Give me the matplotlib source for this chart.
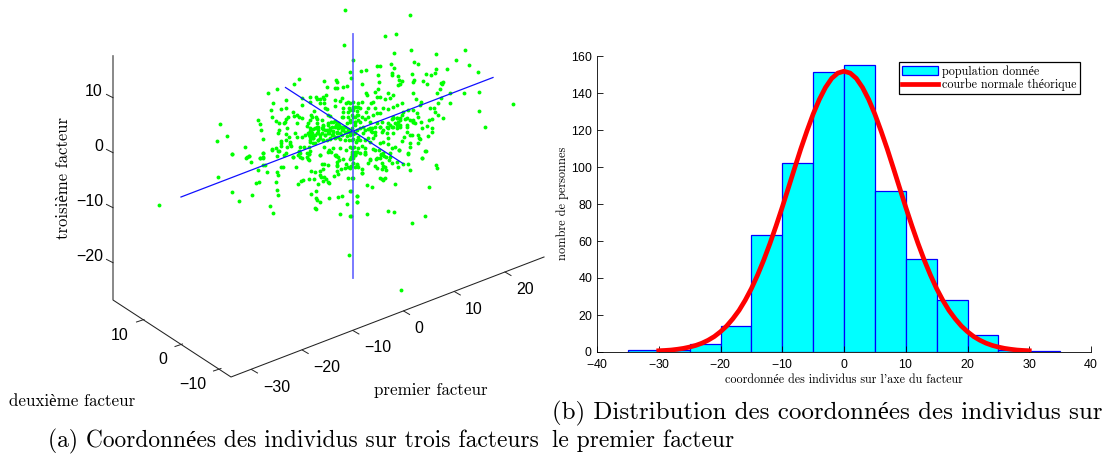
import numpy as np
import matplotlib
matplotlib.use("Agg")
import matplotlib.pyplot as plt

plt.rcParams['font.family'] = ['Liberation Sans', 'DejaVu Sans']
serif = ['cmr10', 'Liberation Serif']
plt.rcParams['axes.formatter.use_mathtext'] = True

# histogram of the first factor
bin_edges = [-35, -30, -25, -20, -15, -10, -5, 0, 5, 10, 15, 20, 25, 30, 35]
bin_counts = [1, 1, 4, 14, 63, 102, 151, 155, 87, 50, 28, 9, 1, 0.3]
curve_x = list(range(-30, 31))
curve_y = [0.4, 0.57, 0.8, 1.2, 1.7, 2.4, 3.3, 4.5, 6.1, 8.1, 10.7, 13.8, 17.7, 22.2, 27.7, 34, 41.3, 49.4, 58.3, 67.9,
           78, 88.5, 99.1, 109.5, 119.2, 128.3, 136.2, 142.7, 147.6, 150.5, 151.5,
           150.5, 147.6, 142.7, 136.2, 128.3, 119.2, 109.5, 99.1, 88.5, 78,
           67.9, 58.3, 49.4, 41.3, 34, 27.7, 22.2, 17.7, 13.8, 10.7, 8.1, 6.1, 4.5, 3.3, 2.4, 1.7, 1.2, 0.8, 0.57, 0.4]

# cloud of individuals (3x crop coordinates)
cloud = [
    (765,31),(959,45),(884,107),(918,103),(763,136),(963,149),(911,160),(1037,163),(1125,150),(1098,179),
    (789,180),(208,614),(778,766),(933,871),(1270,313),
]
crop_a = [
    (268,58),(251,72),(202,87),(175,100),(342,62),(379,60),(381,65),(352,80),(376,85),(380,85),(400,80),(411,79),(422,53),(421,37),
    (299,112),(318,110),(322,118),(347,105),(340,112),(331,118),(343,118),(375,121),(397,115),(391,124),(413,125),(407,130),
    (228,121),(275,115),(190,130),(277,135),(329,130),(342,130),(375,137),(300,125),(212,146),(227,143),(182,150),(248,155),
    (262,165),(268,170),(252,168),(302,165),(312,152),(345,145),(350,148),(398,143),(418,143),(428,140),(434,140),(445,140),
    (400,155),(415,155),(430,150),(440,152),(186,170),(143,179),(197,184),(208,188),(228,178),(233,172),(224,185),(221,190),
    (262,190),(275,175),(305,170),(318,172),(322,178),(300,180),(335,180),(355,165),(360,168),(395,170),(400,172),(415,170),
    (425,165),(435,170),(445,165),(151,193),(154,211),(231,205),(207,210),(203,218),(290,198),(295,188),(340,195),(320,190),
    (355,190),(363,185),(375,183),(385,190),(378,195),(390,200),(410,190),(420,185),(435,185),(443,180),(229,222),(255,220),
    (262,230),(275,232),(285,225),(300,205),(302,215),(298,225),(315,205),(325,200),(338,208),(350,210),(360,205),(370,212),
    (385,205),(395,210),(405,215),(415,212),(428,212),(440,210),(158,237),(212,243),(212,250),(227,240),(236,232),(241,245),
    (240,252),(242,258),(305,228),(310,235),(322,218),(330,225),(345,225),(358,218),(368,225),(380,220),(395,225),(410,228),
    (420,225),(430,222),(105,262),(186,268),(198,265),(206,274),(230,260),(212,258),(270,262),(283,262),(296,262),(300,240),
    (310,250),(325,240),(340,240),(350,240),(360,238),(375,235),(390,238),(405,240),(418,240),(430,238),(442,240),(67,283),
    (117,289),(109,294),(160,278),(159,293),(149,295),(222,284),(248,292),(267,275),(271,280),(265,284),(290,280),(296,282),
    (294,296),(330,285),(342,262),(358,270),(370,265),(375,285),(390,265),(407,270),(425,290),(433,260),(445,265),(420,262),
    (378,288),(29,193),(52,229),(21,244),
]
crop_b = [
    (193,5),(204,13),(124,12),(133,23),(80,18),(89,19),(48,30),(32,33),(85,45),(126,38),(125,45),(145,47),(148,60),(157,62),
    (185,43),(192,60),(190,65),(218,63),(228,42),(243,46),(256,40),(258,26),(291,28),(356,15),(383,35),(149,73),(145,76),
    (232,72),(87,67),(37,72),(278,66),(275,72),(272,70),(269,87),(261,98),(189,100),(300,100),(341,100),(388,96),(387,153),
    (406,200),(299,128),(47,100),(52,105),(75,97),(85,87),(90,110),(113,100),(130,105),(120,115),(105,118),(80,110),(68,125),
    (62,130),(35,125),(25,128),(10,125),(0,130),(198,118),(212,127),(210,135),(273,115),(265,130),(252,145),(240,145),(255,157),
    (280,175),(265,165),(155,130),(142,135),(130,140),(115,147),(100,145),(90,160),(75,145),(55,145),(48,155),(30,145),(20,140),
    (10,145),(0,150),(175,150),(190,150),(200,160),(205,170),(160,155),(80,160),(70,165),(55,170),(35,170),(20,165),(8,170),
    (30,185),(130,170),(140,175),(125,178),(150,180),(155,165),(190,180),(188,187),(170,175),(212,185),(230,198),(238,180),
    (245,178),(115,190),(95,185),(80,190),(60,185),(45,178),(15,185),(0,180),(140,195),(150,200),(125,200),(115,205),(90,200),
    (65,205),(62,212),(40,200),(30,205),(15,195),(5,205),(170,195),(172,215),(215,205),(245,205),(247,217),(235,227),(130,218),
    (110,220),(95,215),(75,225),(70,235),(55,235),(40,220),(25,230),(15,220),(0,215),(180,225),(185,225),(205,225),(207,235),
    (210,237),(162,232),(155,243),(180,250),(115,235),(100,245),(90,250),(60,245),(45,240),(30,240),(18,245),(35,258),(5,240),
    (205,250),(180,262),(227,272),(135,262),(127,265),(113,252),(70,268),(88,270),(100,280),(148,270),(92,285),(108,290),(45,265),
    (45,282),(30,280),(5,265),(15,275),(175,280),(215,295),(80,295),(60,297),(120,290),(5,282),
]
crop_c = [
    (67,13),(110,22),(118,18),(122,36),(150,24),(160,8),(160,20),(187,0),(205,3),(227,8),(200,18),(250,21),(270,20),(275,25),
    (290,20),(296,13),(298,30),(268,3),(300,2),(330,14),(355,5),(363,6),(378,15),(383,20),(388,30),(380,35),(400,28),(425,18),
    (428,25),(420,28),(440,5),(435,15),(160,45),(165,45),(143,60),(170,65),(213,52),(218,50),(200,65),(203,75),(257,50),(303,63),
    (316,66),(335,42),(342,43),(355,45),(381,45),(380,48),(408,42),(415,50),(430,40),(440,45),(445,50),(393,58),(380,62),(330,62),
    (338,58),(405,55),(420,55),(24,81),(137,100),(148,95),(198,95),(272,92),(278,90),(313,87),(298,88),(324,101),(330,75),(332,80),
    (342,80),(347,88),(340,93),(353,97),(357,100),(373,78),(385,72),(413,84),(428,85),(67,125),(127,135),(202,119),(205,134),
    (263,101),(318,122),(302,131),(319,143),(322,150),(330,157),(385,140),(396,137),(358,143),(422,124),(440,137),(441,157),
    (412,163),(88,154),(181,168),(190,188),(316,174),(318,176),(390,192),(422,198),
]
crop_d = [
    (5,5),(15,15),(20,5),(45,5),(45,12),(2,20),(75,0),(90,25),(103,18),(78,27),(60,30),(118,30),(127,38),(140,35),(148,0),(120,10),
    (92,13),(175,12),(225,3),(215,25),(55,40),(20,43),(10,38),(3,48),(15,50),(35,57),(35,70),(37,70),(95,40),(100,48),(75,48),(82,55),
    (95,57),(105,50),(108,60),(143,50),(160,42),(175,42),(180,59),(257,45),(261,55),(7,85),(90,85),(95,88),(100,90),(105,84),(50,104),
    (65,112),(134,102),(238,112),(0,124),(20,137),(20,157),(51,193),(115,184),(133,187),(226,197),(185,218),(0,198),
]
# denser centre, from tighter crops
crop_e = [
    (160,97),(170,100),(178,105),(185,110),(195,112),(205,118),(165,110),(175,115),(190,120),(200,125),(210,125),(155,112),(150,120),
    (160,125),(170,125),(180,130),(145,130),(155,135),(135,120),(125,115),(115,120),(100,118),(90,122),(95,130),(105,135),(115,130),
    (125,130),(135,135),(90,140),(100,145),(120,145),(85,130),(110,112),(130,108),(143,105),(115,150),(130,150),(150,145),(165,140),
    (175,140),(90,155),(105,158),
]
crop_f = [
    (115,85),(125,85),(130,95),(120,100),(105,105),(135,105),(115,110),(95,110),(125,115),(60,112),(75,110),(45,115),(50,125),(40,118),
    (60,125),(85,120),(30,120),(155,110),(175,95),(180,100),(135,85),(150,88),(165,90),
]

# tick values of the three factor axes
z_ticks = [10, 0, -10, -20]
x_ticks = [-30, -20, -10, 0, 10, 20]
y_ticks = [10, 0, -10]
# the tick labels along the first factor are not evenly spaced in the picture
x_label_px = [277, 327, 378, 419, 474, 525]


def screen_points(points, dx=0, dy=0):
    pts = np.array(points, dtype=float)
    return 90 + (pts[:, 0] + dx) / 3, (pts[:, 1] + dy) / 3


def z_pos(z):
    return 113.0, 152.7 - 5.5 * z


def x_pos(x):
    return 403.6 + 5.07 * x, 311.0 - 1.95 * x


def y_pos(y):
    return 182.5 - 3.85 * y, 344.0 - 2.45 * y


def tick_text(t):
    return f'\u2212{-t}' if t < 0 else str(t)


fig = plt.figure(figsize=(11.03, 4.58), dpi=100)

# left panel: view of the 3D cloud, drawn in picture units
ax = fig.add_axes([0, 0, 1, 1])
ax.set_xlim(0, 1103)
ax.set_ylim(458, 0)
ax.axis('off')

all_x, all_y = [], []
for pts, dx, dy in [(cloud, 0, 0), (crop_a, 360, 180), (crop_b, 780, 180), (crop_c, 360, 450),
                    (crop_d, 780, 450), (crop_e, 570, 270), (crop_f, 795, 270)]:
    px, py = screen_points(pts, dx, dy)
    all_x.append(px)
    all_y.append(py)
ax.plot(np.concatenate(all_x), np.concatenate(all_y), ls='none', marker='o', ms=2.8, mew=0, color='#00ff00', zorder=2)

# factor axes through the cloud
ax.plot([181, 493], [197, 77.5], color='#1010ff', lw=0.9, zorder=3)
ax.plot([285.5, 403], [87.5, 163.5], color='#1010ff', lw=0.9, zorder=3)
ax.plot([353, 353], [33.5, 277.5], color='#4040ff', lw=1.3, alpha=0.75, zorder=3)

# box edges
ax.plot([113, 113, 231, 544], [55.7, 300, 377, 257], color='#222222', lw=0.75, zorder=1)
for t in z_ticks:
    x0, y0 = z_pos(t)
    ax.plot([x0, x0 - 6.5], [y0, y0 - 3.3], color='#222222', lw=0.7)
    ax.text(103, y0 - 6, tick_text(t), ha='right', va='center', fontsize=11.5)
for t, lx in zip(x_ticks, x_label_px):
    x0, y0 = x_pos(t)
    ax.plot([x0, x0 + 6], [y0, y0 + 3.5], color='#222222', lw=0.7)
    ax.text(lx, y0 + 17.5, tick_text(t), ha='center', va='center', fontsize=11.5)
for t in y_ticks:
    x0, y0 = y_pos(t)
    ax.plot([x0, x0 - 7.5], [y0, y0 + 2.5], color='#222222', lw=0.7)
    ax.text(x0 - 15, y0 + 16, tick_text(t), ha='right', va='center', fontsize=11.5)

ax.text(63, 178, 'troisième facteur', rotation=90, ha='center', va='center', fontsize=12, family=serif)
ax.text(431, 390, 'premier facteur', ha='center', va='center', fontsize=12.2, family=serif)
ax.text(72, 401, 'deuxième facteur', ha='center', va='center', fontsize=12.2, family=serif)

# captions
ax.text(48, 441, '(a) Coordonnées des individus sur trois facteurs', ha='left', va='center', fontsize=16.9, family=serif)
ax.text(552, 413, '(b) Distribution des coordonnées des individus sur', ha='left', va='center', fontsize=17.95, family=serif)
ax.text(552, 441, 'le premier facteur', ha='left', va='center', fontsize=16.9, family=serif)

# right panel: histogram
W, H = 1103, 458
ax2 = fig.add_axes([597 / W, 1 - 351.5 / H, (1091 - 597) / W, (351.5 - 55.5) / H])
ax2.patch.set_alpha(0)
bars = ax2.bar(bin_edges[:-1], bin_counts, width=np.diff(bin_edges), align='edge',
               color='#00ffff', edgecolor='#0000ff', linewidth=0.9)
line, = ax2.plot(curve_x, curve_y, color='#ff0000', lw=3.4, solid_joinstyle='round', zorder=5)
ax2.set_xlim(-40, 40)
ax2.set_ylim(0, 160)
ax2.set_xticks(range(-40, 41, 10))
ax2.set_yticks(range(0, 161, 20))
ax2.tick_params(direction='in', length=4, width=0.6, labelsize=8.8, pad=3)
ax2.tick_params(axis='x', pad=4.5)
ax2.spines['top'].set_visible(False)
ax2.spines['right'].set_visible(False)
ax2.spines['left'].set_linewidth(0.6)
ax2.spines['bottom'].set_linewidth(0.6)
ax2.set_xlabel("coordonnée des individus sur l'axe du facteur", fontsize=8.7, family=serif, labelpad=2)
ax2.set_ylabel('nombre de personnes', fontsize=8.9, family=serif, labelpad=1)

leg = ax2.legend([bars, line], ['population donnée', 'courbe normale théorique'],
                 loc='upper left', bbox_to_anchor=((899 - 597) / 494, (351.5 - 62) / 296),
                 prop={'family': serif, 'size': 8.7}, fancybox=False, framealpha=1, edgecolor='black',
                 borderaxespad=0, borderpad=0.25, labelspacing=0.05, handlelength=3.0, handletextpad=0.35)
leg.get_frame().set_linewidth(0.9)

fig.savefig('out.png', dpi=100)
plt.close()
